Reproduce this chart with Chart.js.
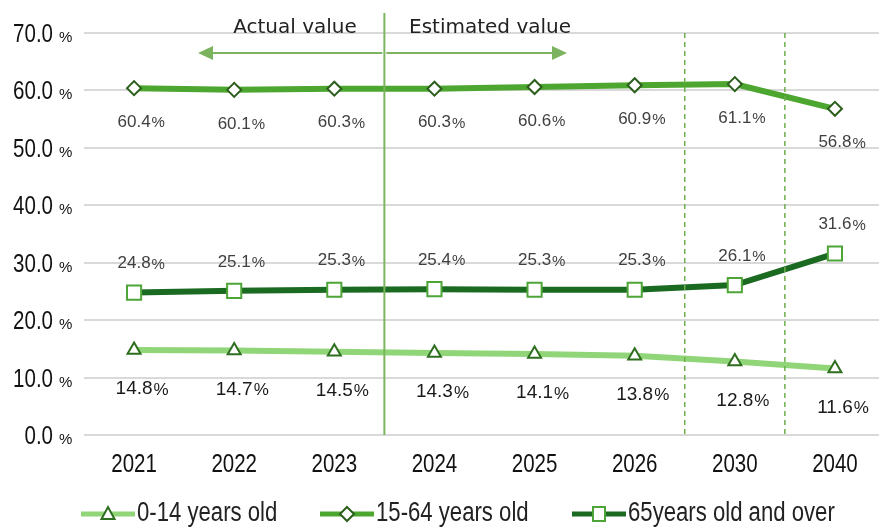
<!DOCTYPE html>
<html>
<head>
<meta charset="utf-8">
<script src="https://cdn.jsdelivr.net/npm/chart.js@4/dist/chart.umd.min.js"></script>
<style>
  html, body { margin: 0; padding: 0; background: #fff; overflow: hidden; }
  #wrap { width: 897px; height: 527px; }
</style>
</head>
<body>
<div id="wrap"><canvas id="popChart" width="897" height="527"></canvas></div>
<script>
const years = ['2021', '2022', '2023', '2024', '2025', '2026', '2030', '2040'];
const age0to14 = [14.8, 14.7, 14.5, 14.3, 14.1, 13.8, 12.8, 11.6];
const age15to64 = [60.4, 60.1, 60.3, 60.3, 60.6, 60.9, 61.1, 56.8];
const age65plus = [24.8, 25.1, 25.3, 25.4, 25.3, 25.3, 26.1, 31.6];
const yTicks = [0, 10, 20, 30, 40, 50, 60, 70];
const seriesNames = ['0-14 years old', '15-64 years old', '65years old and over'];

const SANS = '"Liberation Sans", Arial, sans-serif';
const SQUEEZE = 0.82; // fake a narrow face by squeezing Liberation Sans

// label placement per series: dy offset from point, size, colour
const labelStyle = [
  { dy: 39, size: 19, color: '#1a1a1a' },
  { dy: 34, size: 17, color: '#404040' },
  { dy: -29, size: 17, color: '#404040' }
];

function narrowText(ctx, txt, x, y, size, align) {
  ctx.save();
  ctx.font = size + 'px ' + SANS;
  ctx.textAlign = align;
  ctx.translate(x, y);
  ctx.scale(SQUEEZE, 1);
  ctx.fillText(txt, 0, 0);
  ctx.restore();
}

const overlay = {
  id: 'overlay',
  afterDraw(chart) {
    const ctx = chart.ctx;
    const x = chart.scales.x, y = chart.scales.y;
    const area = chart.chartArea;
    ctx.save();

    // y tick labels: big number + small %
    ctx.fillStyle = '#111';
    ctx.textBaseline = 'alphabetic';
    yTicks.forEach(v => {
      const py = y.getPixelForValue(v);
      narrowText(ctx, v.toFixed(1), 53, py + 9, 25, 'right');
      ctx.font = '15px ' + SANS;
      ctx.textAlign = 'left';
      ctx.fillText('%', 59, py + 9);
    });

    // x tick labels
    years.forEach((lab, i) => {
      narrowText(ctx, lab, x.getPixelForValue(i), 472, 25, 'center');
    });

    // divider lines between categories
    const mid = (a, b) => (x.getPixelForValue(a) + x.getPixelForValue(b)) / 2;
    const solidX = mid(2, 3);
    ctx.strokeStyle = '#7ab55c';
    ctx.lineWidth = 2;
    ctx.beginPath();
    ctx.moveTo(solidX, 13);
    ctx.lineTo(solidX, area.bottom);
    ctx.stroke();

    ctx.strokeStyle = '#6eae4c';
    ctx.lineWidth = 1.5;
    ctx.setLineDash([5, 4]);
    [mid(5, 6), mid(6, 7)].forEach(dx => {
      ctx.beginPath();
      ctx.moveTo(dx, area.top);
      ctx.lineTo(dx, area.bottom);
      ctx.stroke();
    });
    ctx.setLineDash([]);

    // arrows
    const ay = 53;
    ctx.strokeStyle = '#7cb35e';
    ctx.fillStyle = '#7cb35e';
    ctx.lineWidth = 2;
    ctx.beginPath();
    ctx.moveTo(solidX - 2, ay);
    ctx.lineTo(210, ay);
    ctx.moveTo(solidX + 2, ay);
    ctx.lineTo(555, ay);
    ctx.stroke();
    ctx.beginPath();
    ctx.moveTo(198, ay);
    ctx.lineTo(213, ay - 7);
    ctx.lineTo(213, ay + 7);
    ctx.closePath();
    ctx.fill();
    ctx.beginPath();
    ctx.moveTo(567, ay);
    ctx.lineTo(552, ay - 7);
    ctx.lineTo(552, ay + 7);
    ctx.closePath();
    ctx.fill();

    ctx.fillStyle = '#222';
    ctx.font = '20px "DejaVu Sans", sans-serif';
    ctx.textAlign = 'center';
    ctx.textBaseline = 'middle';
    ctx.fillText('Actual value', 295, 28);
    ctx.fillText('Estimated value', 490, 28);

    // data labels
    chart.data.datasets.forEach((ds, i) => {
      const st = labelStyle[i];
      chart.getDatasetMeta(i).data.forEach((pt, j) => {
        const txt = ds.data[j].toFixed(1);
        ctx.font = st.size + 'px ' + SANS;
        ctx.fillStyle = st.color;
        ctx.textBaseline = 'middle';
        ctx.textAlign = 'center';
        ctx.fillText(txt, pt.x, pt.y + st.dy);
        const w = ctx.measureText(txt).width;
        ctx.textAlign = 'left';
        ctx.font = (st.size - 2) + 'px ' + SANS;
        ctx.fillText('%', pt.x + w / 2 + 1, pt.y + st.dy + 1);
      });
    });

    // legend
    const legendX = [81, 320, 572];
    const ly = 514;
    chart.data.datasets.forEach((ds, i) => {
      const lx = legendX[i];
      ctx.strokeStyle = ds.borderColor;
      ctx.lineWidth = 5;
      ctx.beginPath();
      ctx.moveTo(lx, ly);
      ctx.lineTo(lx + 54, ly);
      ctx.stroke();
      const cx = lx + 27;
      ctx.fillStyle = '#fff';
      ctx.strokeStyle = ds.pointBorderColor;
      ctx.lineWidth = 2;
      ctx.beginPath();
      if (i === 0) {
        ctx.moveTo(cx, ly - 7);
        ctx.lineTo(cx + 6.5, ly + 5);
        ctx.lineTo(cx - 6.5, ly + 5);
        ctx.closePath();
      } else if (i === 1) {
        ctx.moveTo(cx, ly - 7);
        ctx.lineTo(cx + 7, ly);
        ctx.lineTo(cx, ly + 7);
        ctx.lineTo(cx - 7, ly);
        ctx.closePath();
      } else {
        ctx.rect(cx - 6, ly - 7, 12, 14);
      }
      ctx.fill();
      ctx.stroke();
      ctx.fillStyle = '#222';
      ctx.textBaseline = 'middle';
      narrowText(ctx, seriesNames[i], lx + 56, ly, 27, 'left');
    });

    ctx.restore();
  }
};

new Chart(document.getElementById('popChart'), {
  type: 'line',
  data: {
    labels: years,
    datasets: [
      {
        label: seriesNames[0], data: age0to14,
        borderColor: '#90d679', borderWidth: 6,
        pointStyle: 'triangle', pointRadius: 7.5,
        pointBackgroundColor: '#fff', pointBorderColor: '#2e6e1f', pointBorderWidth: 2
      },
      {
        label: seriesNames[1], data: age15to64,
        borderColor: '#4ca62f', borderWidth: 6,
        pointStyle: 'rectRot', pointRadius: 7,
        pointBackgroundColor: '#fff', pointBorderColor: '#2b5e1b', pointBorderWidth: 2
      },
      {
        label: seriesNames[2], data: age65plus,
        borderColor: '#1b6a22', borderWidth: 6,
        pointStyle: 'rect', pointRadius: 10,
        pointBackgroundColor: '#fff', pointBorderColor: '#4ca536', pointBorderWidth: 2
      }
    ]
  },
  options: {
    responsive: false,
    animation: false,
    layout: { padding: { top: 33, bottom: 52, left: 0, right: 0 } },
    plugins: { legend: { display: false }, tooltip: { enabled: false } },
    elements: { line: { tension: 0 } },
    scales: {
      x: {
        offset: true,
        grid: { display: false, drawTicks: false },
        border: { display: false },
        ticks: { display: false },
        afterFit: s => { s.height = 40; }
      },
      y: {
        min: 0, max: 70,
        ticks: { stepSize: 10, display: false },
        grid: { color: '#d9d9d9', lineWidth: 2, drawTicks: false },
        border: { display: false },
        afterFit: s => { s.width = 84; }
      }
    }
  },
  plugins: [overlay]
});
</script>
</body>
</html>
